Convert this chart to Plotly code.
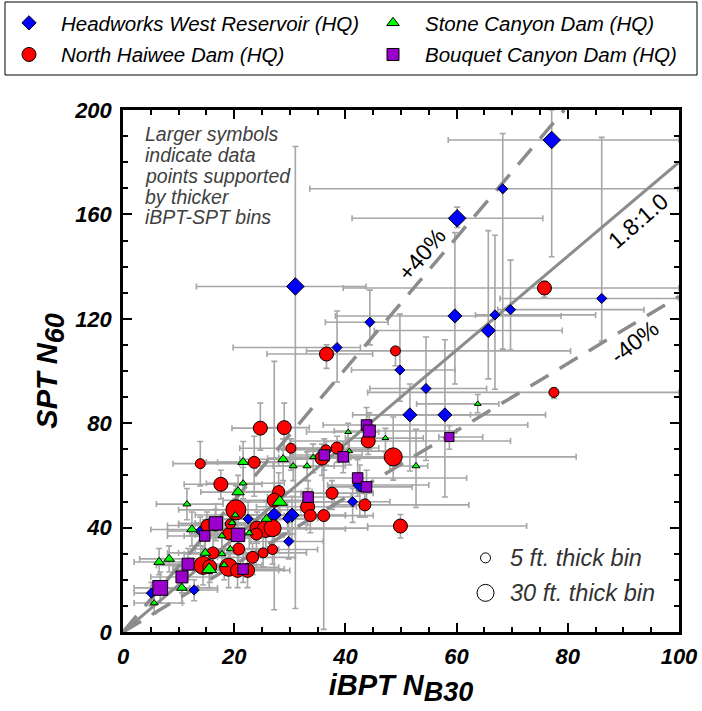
import plotly.graph_objects as go

# ---------------- data ----------------
# Each series: x (iBPT N_B30), y (SPT N60), bin thickness (ft), x range low/high, y range low/high
hw_x  = [77.1, 68.3, 60.1, 31.0, 44.4, 38.5, 59.7, 66.9, 69.7, 86.1, 65.7, 49.8, 54.5, 51.6, 57.9, 42.6, 41.3, 27.2, 30.4, 29.6, 22.5, 29.8, 13.9, 12.8, 5.1]
hw_y  = [188.5, 169.8, 158.5, 132.4, 118.7, 109.0, 121.1, 121.5, 123.5, 127.8, 115.5, 100.4, 93.3, 83.2, 83.2, 56.3, 49.9, 44.9, 44.8, 43.5, 43.3, 34.7, 38.7, 16.1, 14.9]
hw_t  = [25, 10, 25, 25, 10, 10, 18, 10, 10, 10, 18, 10, 10, 18, 18, 18, 10, 18, 18, 10, 10, 10, 10, 10, 10]
hw_xlo = [58.5, 33.6, 41.2, 13.2, 36.4, 19.8, 38.2, 63.4, 67.4, 67.8, 45.2, 41.1, 44.4, 41.3, 44.0, 36.8, 33.0, 18.0, 20.0, 22.0, 15.0, 23.0, 8.0, 8.5, 2.0]
hw_xhi = [100, 99.8, 75.5, 43.7, 47.7, 42.7, 78.8, 85.0, 93.7, 100, 79.0, 59.7, 65.4, 62.5, 76.0, 55.0, 48.0, 36.0, 40.0, 35.0, 30.0, 36.0, 20.0, 17.0, 8.0]
hw_ylo = [143.8, 108.4, 155.0, 9.0, 110.0, 95.8, 95.0, 93.0, 108.0, 111.5, 97.0, 88.4, 65.7, 61.7, 51.7, 44.0, 42.0, 8.5, 35.0, 38.0, 36.0, 28.0, 33.0, 12.0, 10.0]
hw_yhi = [200, 191.0, 162.8, 186.0, 131.0, 123.0, 153.0, 152.0, 142.5, 189.5, 153.8, 121.8, 113.0, 95.0, 112.0, 64.0, 55.0, 103.7, 52.0, 50.0, 50.0, 42.0, 44.0, 20.0, 19.0]

nh_x  = [75.8, 77.5, 49.0, 36.6, 24.7, 29.0, 44.1, 30.2, 36.5, 38.5, 35.8, 48.6, 13.9, 23.6, 17.6, 28.0, 37.6, 27.2, 33.2, 43.5, 33.7, 36.1, 49.9, 20.3,
         24.1, 25.7, 26.9, 24.0, 15.1, 16.6, 19.0, 19.3, 20.8, 16.2, 23.3, 25.2, 26.9, 14.4, 15.6, 19.0, 20.6, 22.4]
nh_y  = [131.8, 91.8, 107.7, 106.5, 78.1, 78.3, 73.2, 70.4, 69.8, 70.5, 66.6, 67.1, 64.5, 65.0, 56.6, 53.8, 53.2, 50.5, 48.0, 48.7, 44.6, 44.6, 40.6, 46.8,
         39.8, 39.5, 39.8, 37.5, 40.8, 41.0, 37.6, 41.4, 31.8, 30.3, 28.6, 30.3, 31.6, 25.5, 25.0, 24.8, 23.6, 23.6]
nh_t  = [18, 10, 10, 18, 18, 18, 18, 10, 10, 14, 18, 26, 10, 14, 18, 14, 14, 18, 18, 14, 14, 14, 18, 30,
         18, 24, 24, 14, 14, 14, 14, 10, 14, 14, 14, 10, 10, 26, 18, 26, 18, 18]
nh_xlo = [39.6, 44.0, 33.0, 25.9, 19.6, 24.5, 30.0, 21.0, 28.0, 31.0, 26.0, 35.0, 9.0, 17.0, 11.0, 20.0, 32.0, 18.0, 24.0, 38.0, 25.0, 29.0, 44.0, 10.0,
          16.0, 15.0, 18.0, 17.0, 8.0, 10.0, 12.0, 13.0, 14.0, 10.0, 17.0, 19.0, 20.0, 6.0, 9.0, 11.0, 14.0, 16.0]
nh_xhi = [100, 100, 80.5, 44.9, 29.9, 33.5, 69.7, 36.0, 44.0, 46.0, 50.0, 81.5, 21.0, 30.0, 25.0, 34.0, 45.0, 34.0, 42.0, 62.2, 40.0, 45.0, 72.6, 32.0,
          33.0, 40.0, 44.0, 31.0, 22.0, 24.0, 27.0, 26.0, 28.0, 24.0, 31.0, 33.0, 35.0, 24.0, 22.0, 28.0, 28.0, 30.0]
nh_ylo = [128.2, 89.5, 102.0, 101.0, 69.7, 69.7, 68.0, 62.0, 64.0, 65.0, 60.0, 58.2, 56.0, 52.0, 51.0, 46.0, 47.0, 43.0, 41.0, 44.0, 38.0, 1.0, 36.0, 38.0,
          34.0, 32.0, 33.0, 32.0, 35.0, 36.0, 32.0, 36.0, 26.0, 25.0, 22.0, 25.0, 26.0, 18.0, 19.0, 17.0, 17.0, 17.0]
nh_yhi = [134.4, 93.5, 109.0, 110.0, 87.7, 87.7, 80.0, 74.0, 73.0, 75.0, 72.0, 82.4, 73.0, 75.0, 62.0, 61.0, 58.0, 57.0, 55.0, 53.0, 51.0, 64.0, 45.0, 56.0,
          46.0, 47.0, 46.0, 43.0, 46.0, 47.0, 43.0, 47.0, 38.0, 36.0, 34.0, 36.0, 37.0, 33.0, 31.0, 32.0, 30.0, 30.0]

sc_x  = [63.8, 40.5, 47.2, 40.7, 34.2, 28.8, 30.6, 33.1, 52.7, 21.6, 21.6, 20.7, 11.5, 28.2, 20.2, 25.8, 12.4, 19.6, 17.8, 22.7, 14.8, 17.8, 19.3, 15.5, 18.2, 6.5, 8.3, 10.6, 5.6]
sc_y  = [87.4, 76.6, 74.3, 69.3, 67.0, 66.2, 63.6, 63.6, 63.6, 65.1, 57.0, 53.6, 49.0, 49.8, 44.8, 43.3, 39.3, 41.8, 36.8, 37.9, 30.3, 29.9, 31.8, 24.0, 25.7, 26.8, 28.0, 16.9, 11.1]
sc_t  = [5, 5, 5, 5, 5, 14, 8, 8, 8, 14, 8, 18, 8, 24, 8, 14, 14, 8, 8, 8, 14, 8, 8, 24, 8, 14, 14, 14, 8]
sc_xlo = [52.8, 33.0, 40.0, 33.0, 28.0, 21.0, 24.0, 27.0, 48.0, 15.0, 15.0, 14.0, 6.0, 20.0, 13.0, 18.0, 5.0, 13.0, 11.0, 16.0, 8.0, 11.0, 13.0, 9.0, 12.0, 2.0, 3.0, 5.0, 2.0]
sc_xhi = [67.6, 46.0, 54.0, 48.0, 41.0, 37.0, 38.0, 40.0, 54.8, 28.0, 29.0, 28.0, 18.0, 38.0, 27.0, 34.0, 20.0, 26.0, 25.0, 30.0, 22.0, 25.0, 26.0, 23.0, 25.0, 11.0, 14.0, 17.0, 10.7]
sc_ylo = [84.0, 70.0, 69.0, 64.0, 61.0, 58.0, 58.0, 58.0, 47.7, 57.0, 51.0, 47.0, 43.0, 43.0, 39.0, 37.0, 33.0, 36.0, 31.0, 32.0, 24.0, 24.0, 26.0, 17.0, 20.0, 22.0, 23.0, 11.0, 7.0]
sc_yhi = [91.0, 80.0, 78.0, 74.0, 72.0, 74.0, 69.0, 69.0, 77.7, 73.0, 63.0, 60.0, 55.0, 57.0, 51.0, 50.0, 46.0, 48.0, 43.0, 44.0, 37.0, 36.0, 38.0, 31.0, 32.0, 32.0, 33.0, 23.0, 15.0]

bc_x  = [43.8, 44.3, 36.2, 39.6, 42.2, 43.8, 33.3, 58.7, 16.7, 14.7, 20.7, 11.7, 10.6, 6.7, 21.6]
bc_y  = [79.3, 77.0, 67.8, 67.1, 59.0, 55.6, 51.7, 74.7, 41.6, 36.8, 37.2, 26.0, 21.1, 16.9, 24.1]
bc_t  = [14, 18, 14, 14, 14, 14, 14, 10, 22, 14, 22, 18, 18, 26, 14]
bc_xlo = [36.0, 38.0, 30.0, 33.0, 36.0, 37.0, 26.0, 56.8, 10.0, 8.0, 13.0, 6.0, 5.0, 2.0, 15.0]
bc_xhi = [72.8, 60.0, 43.0, 47.0, 61.8, 52.0, 41.0, 64.7, 24.0, 21.0, 29.0, 18.0, 16.0, 12.0, 29.0]
bc_ylo = [72.0, 70.0, 62.0, 61.0, 52.0, 50.0, 45.0, 70.0, 35.0, 31.0, 31.0, 20.0, 15.0, 11.0, 19.0]
bc_yhi = [86.0, 84.0, 74.0, 73.0, 66.0, 62.0, 58.0, 79.0, 49.0, 43.0, 44.0, 32.0, 27.0, 23.0, 30.0]

ratio = 1.8          # SPT/iBPT trend
band = 0.40          # +/- 40 %
x_max, y_max = 100, 200
x_ticks = [0, 20, 40, 60, 80, 100]
y_ticks = [0, 40, 80, 120, 160, 200]
note_lines = ["Larger symbols", "indicate data", "points supported", "by thicker", "iBPT-SPT bins"]
bin_key_labels = ["5 ft. thick bin", "30 ft. thick bin"]

series = [
    dict(name="Headworks West Reservoir (HQ)", x=hw_x, y=hw_y, t=hw_t, xlo=hw_xlo, xhi=hw_xhi, ylo=hw_ylo, yhi=hw_yhi,
         symbol="diamond", color="#0000ff", base=4.0, slope=0.38, leg="legend", lsize=11),
    dict(name="North Haiwee Dam (HQ)", x=nh_x, y=nh_y, t=nh_t, xlo=nh_xlo, xhi=nh_xhi, ylo=nh_ylo, yhi=nh_yhi,
         symbol="circle", color="#ff0000", base=5.0, slope=0.5, leg="legend", lsize=14),
    dict(name="Stone Canyon Dam (HQ)", x=sc_x, y=sc_y, t=sc_t, xlo=sc_xlo, xhi=sc_xhi, ylo=sc_ylo, yhi=sc_yhi,
         symbol="triangle-up", color="#00ff00", base=4.0, slope=0.38, leg="legend2", lsize=11),
    dict(name="Bouquet Canyon Dam (HQ)", x=bc_x, y=bc_y, t=bc_t, xlo=bc_xlo, xhi=bc_xhi, ylo=bc_ylo, yhi=bc_yhi,
         symbol="square", color="#9900cc", base=5.5, slope=0.36, leg="legend2", lsize=12),
]

FONT = "Liberation Sans, Arial, sans-serif"
GRAY_ERR = "#a6a6a6"
GRAY_LINE = "#8c8c8c"

# plot-area geometry (pixels)
L, R, T, B = 123, 23, 110, 79
W, H = 702, 711
PW, PH = W - L - R, H - T - B
def px_to_paper_x(px):
    return (px - L) / PW
def px_to_paper_y(py):
    return 1 - (py - T) / PH

fig = go.Figure()

# error bars (drawn first so every marker sits on top)
for s in series:
    fig.add_trace(go.Scatter(
        x=s["x"], y=s["y"], mode="markers",
        marker=dict(size=1, color="rgba(0,0,0,0)"),
        error_x=dict(type="data", symmetric=False,
                     array=[h - v for h, v in zip(s["xhi"], s["x"])],
                     arrayminus=[v - l for l, v in zip(s["xlo"], s["x"])],
                     color=GRAY_ERR, thickness=1.6, width=3),
        error_y=dict(type="data", symmetric=False,
                     array=[h - v for h, v in zip(s["yhi"], s["y"])],
                     arrayminus=[v - l for l, v in zip(s["ylo"], s["y"])],
                     color=GRAY_ERR, thickness=1.6, width=3),
        showlegend=False, hoverinfo="skip"))

# trend lines
fig.add_trace(go.Scatter(x=[0, x_max], y=[0, ratio * x_max], mode="lines",
                         line=dict(color=GRAY_LINE, width=3), showlegend=False, hoverinfo="skip"))
up = ratio * (1 + band)
fig.add_trace(go.Scatter(x=[0, y_max / up], y=[0, y_max], mode="lines",
                         line=dict(color=GRAY_LINE, width=3.5, dash="21px,13px"), showlegend=False, hoverinfo="skip"))
lo = ratio / (1 + band)
fig.add_trace(go.Scatter(x=[0, x_max], y=[0, lo * x_max], mode="lines",
                         line=dict(color=GRAY_LINE, width=3.5, dash="21px,13px"), showlegend=False, hoverinfo="skip"))

# data markers
for s in series:
    fig.add_trace(go.Scatter(
        x=s["x"], y=s["y"], mode="markers", name=s["name"],
        marker=dict(symbol=s["symbol"], color=s["color"], opacity=1,
                    size=[s["base"] + s["slope"] * t for t in s["t"]],
                    line=dict(color="black", width=1)),
        showlegend=False))

# legend entries (two columns = two legends inside one frame)
for s in series:
    fig.add_trace(go.Scatter(
        x=[None], y=[None], mode="markers", name=s["name"], legend=s["leg"], legendgroup=s["name"],
        marker=dict(symbol=s["symbol"], color=s["color"], size=s["lsize"], opacity=1,
                    line=dict(color="black", width=1))))

# bin-thickness key
bin_key_x = [65.2, 65.2]
bin_key_y = [28.4, 15.0]
fig.add_trace(go.Scatter(x=bin_key_x, y=bin_key_y, mode="markers",
                         marker=dict(symbol="circle", color="white", size=[10, 17], opacity=1,
                                     line=dict(color="black", width=1)),
                         showlegend=False, hoverinfo="skip"))

annos = []
for lab, yy in zip(bin_key_labels, bin_key_y):
    annos.append(dict(x=69.3, y=yy, xref="x", yref="y", text=lab, xanchor="left", yanchor="middle",
                      showarrow=False, font=dict(family=FONT, size=23.5, color="#333333", style="italic")))
note_py = [134.5, 155.2, 175.9, 196.6, 217.3]
for lab, py in zip(note_lines, note_py):
    annos.append(dict(x=px_to_paper_x(143), y=px_to_paper_y(py), xref="paper", yref="paper", text=lab,
                      xanchor="left", yanchor="middle", showarrow=False,
                      font=dict(family=FONT, size=19.5, color="#404040", style="italic")))
annos += [
    dict(x=53.6, y=144.6, xref="x", yref="y", text="+40%", textangle=-50, showarrow=False,
         font=dict(family=FONT, size=23, color="black")),
    dict(x=92.6, y=157.5, xref="x", yref="y", text="1.8:1.0", textangle=-41, showarrow=False,
         font=dict(family=FONT, size=23, color="black")),
    dict(x=92.0, y=111.0, xref="x", yref="y", text="-40%", textangle=-38, showarrow=False,
         font=dict(family=FONT, size=23, color="black")),
]

shapes = [dict(type="rect", xref="paper", yref="paper",
               x0=px_to_paper_x(5), x1=px_to_paper_x(697), y0=px_to_paper_y(75), y1=px_to_paper_y(2),
               line=dict(color="black", width=1), fillcolor="rgba(0,0,0,0)", layer="above")]

axis_common = dict(
    showgrid=False, zeroline=False, showline=True, linecolor="black", linewidth=2.5, mirror="ticks",
    ticks="inside", ticklen=9, tickwidth=2, tickcolor="black",
    tickfont=dict(family=FONT, size=22, color="black", weight="bold", style="italic"),
)

leg_common = dict(orientation="v", xanchor="left", yanchor="top", borderwidth=0, bgcolor="rgba(0,0,0,0)",
                  itemwidth=54, tracegroupgap=2,
                  font=dict(family=FONT, size=20.5, color="black", style="italic"))

SUB = "<sub><span style='font-size:27px'>{}</span></sub>"

fig.update_layout(
    width=W, height=H,
    margin=dict(l=L, r=R, t=T, b=B, autoexpand=False),
    paper_bgcolor="white", plot_bgcolor="white",
    xaxis=dict(range=[0, x_max], tickvals=x_ticks, ticklabelstandoff=3,
               minor=dict(dtick=5, ticks="inside", ticklen=5, tickwidth=2, tickcolor="black"),
               title=dict(text="<b><i>iBPT N" + SUB.format("B30") + "</i></b>",
                          font=dict(family=FONT, size=29, color="black"), standoff=2),
               **axis_common),
    yaxis=dict(range=[0, y_max], tickvals=y_ticks, ticklabelstandoff=4,
               minor=dict(dtick=10, ticks="inside", ticklen=5, tickwidth=2, tickcolor="black"),
               title=dict(text="<b><i>SPT N" + SUB.format("60") + "</i></b>",
                          font=dict(family=FONT, size=29, color="black"), standoff=8),
               **axis_common),
    legend=dict(x=px_to_paper_x(-3), y=px_to_paper_y(3), **leg_common),
    legend2=dict(x=px_to_paper_x(361), y=px_to_paper_y(3), **leg_common),
    annotations=annos,
    shapes=shapes,
    showlegend=True,
)

fig.write_html("out.html", config={"displayModeBar": False},
               post_script="document.body.style.margin='0px';document.body.style.overflow='hidden';")
